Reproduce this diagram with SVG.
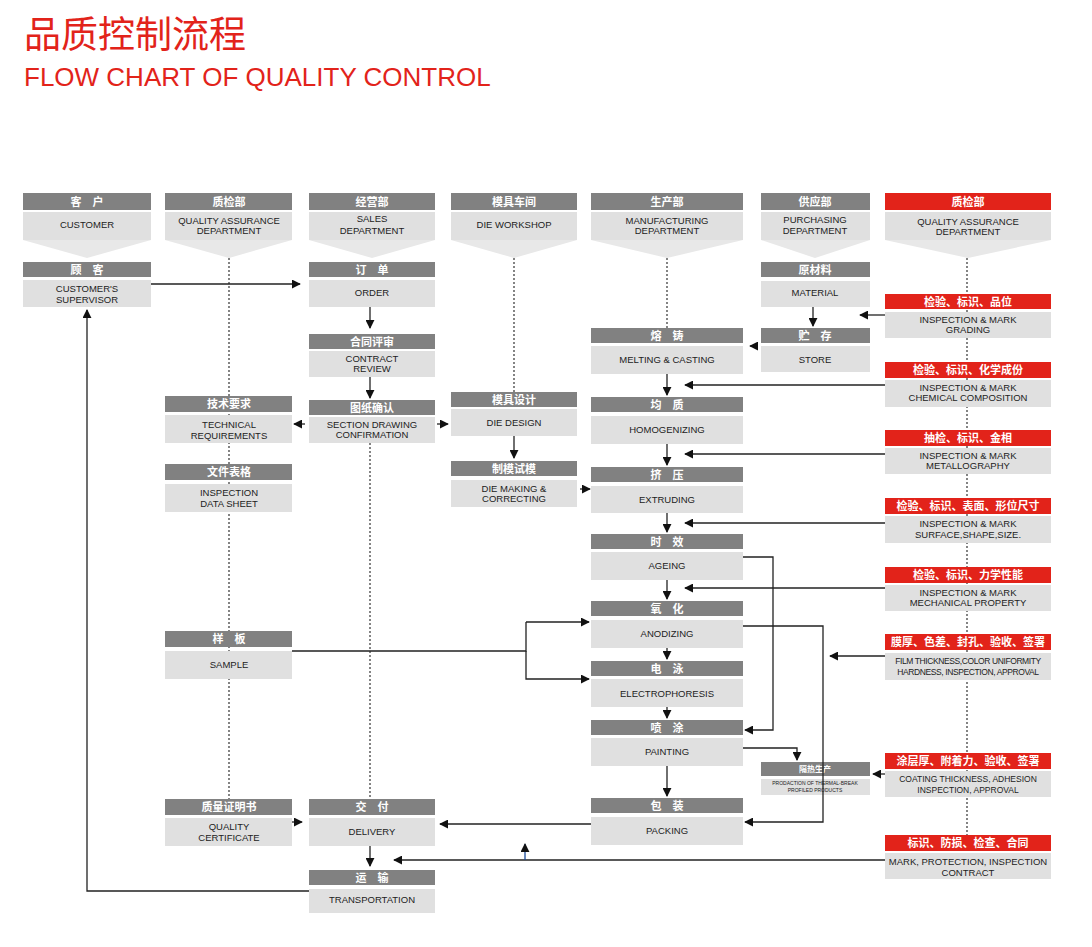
<svg xmlns="http://www.w3.org/2000/svg" width="1092" height="947" viewBox="0 0 1092 947">
<defs>
<style>
.h{fill:#818181}.r{fill:#e2231a}.b{fill:#e0e0e0}.t{fill:#e8e8e8}
.ht{fill:#fff;font-family:"Noto Sans CJK SC",sans-serif;font-size:11px;font-weight:bold;text-anchor:middle}
.bt{fill:#222;font-family:"Liberation Sans",Arial,sans-serif;font-size:9.5px;text-anchor:middle}
.ln{stroke:#222;stroke-width:1.3;fill:none}
.dt{stroke:#333;stroke-width:1.2;stroke-dasharray:2 2;fill:none}
</style>
<marker id="a" viewBox="0 0 10 10" refX="9" refY="5" markerWidth="9" markerHeight="9" markerUnits="userSpaceOnUse" orient="auto"><path d="M0,0L10,5L0,10z" fill="#111"/></marker>
</defs>
<rect width="1092" height="947" fill="#fff"/>
<text x="24" y="48" font-family="Noto Sans CJK SC,sans-serif" font-size="37" fill="#e2231a">品质控制流程</text>
<text x="24" y="86" font-family="Liberation Sans,Arial,sans-serif" font-size="26" fill="#e2231a">FLOW CHART OF QUALITY CONTROL</text>

<g id="dotted">
<path class="dt" d="M229 258V799M370 443V799M514 258V392M667 258V328M967 258V835"/>
</g>

<g id="lanes">
<g id="lane1"><rect class="h" x="23" y="193" width="128" height="17"/><text class="ht" x="87" y="206">客　户</text><rect class="b" x="23" y="212" width="128" height="28"/><text class="bt" x="87" y="228">CUSTOMER</text><polygon class="t" points="23,240 151,240 87,258"/></g>
<g id="lane2"><rect class="h" x="165" y="193" width="127" height="17"/><text class="ht" x="229" y="206">质检部</text><rect class="b" x="165" y="212" width="127" height="28"/><text class="bt" x="229" y="224">QUALITY ASSURANCE</text><text class="bt" x="229" y="234">DEPARTMENT</text><polygon class="t" points="165,240 292,240 229,258"/></g>
<g id="lane3"><rect class="h" x="309" y="193" width="126" height="17"/><text class="ht" x="372" y="206">经营部</text><rect class="b" x="309" y="212" width="126" height="28"/><text class="bt" x="372" y="222">SALES</text><text class="bt" x="372" y="234">DEPARTMENT</text><polygon class="t" points="309,240 435,240 372,258"/></g>
<g id="lane4"><rect class="h" x="451" y="193" width="126" height="17"/><text class="ht" x="514" y="206">模具车间</text><rect class="b" x="451" y="212" width="126" height="28"/><text class="bt" x="514" y="228">DIE  WORKSHOP</text><polygon class="t" points="451,240 577,240 514,258"/></g>
<g id="lane5"><rect class="h" x="591" y="193" width="152" height="17"/><text class="ht" x="667" y="206">生产部</text><rect class="b" x="591" y="212" width="152" height="28"/><text class="bt" x="667" y="224">MANUFACTURING</text><text class="bt" x="667" y="234">DEPARTMENT</text><polygon class="t" points="591,240 743,240 667,258"/></g>
<g id="lane6"><rect class="h" x="761" y="193" width="109" height="17"/><text class="ht" x="815" y="206">供应部</text><rect class="b" x="761" y="212" width="109" height="28"/><text class="bt" x="815" y="223">PURCHASING</text><text class="bt" x="815" y="234">DEPARTMENT</text><polygon class="t" points="761,240 870,240 815,258"/></g>
<g id="lane7"><rect class="r" x="885" y="193" width="166" height="17"/><text class="ht" x="968" y="206">质检部</text><rect class="b" x="885" y="212" width="166" height="28"/><text class="bt" x="968" y="225">QUALITY ASSURANCE</text><text class="bt" x="968" y="235">DEPARTMENT</text><polygon class="t" points="885,240 1051,240 968,258"/></g>
</g>

<g id="n-guke"><rect class="h" x="23" y="262" width="128" height="15"/><text class="ht" x="87" y="274">顾　客</text><rect class="b" x="23" y="280" width="128" height="27"/><text class="bt" x="87" y="292">CUSTOMER'S</text><text class="bt" x="87" y="303">SUPERVISOR</text></g>
<g id="n-order"><rect class="h" x="309" y="262" width="126" height="15"/><text class="ht" x="372" y="274">订　单</text><rect class="b" x="309" y="280" width="126" height="27"/><text class="bt" x="372" y="296">ORDER</text></g>
<g id="n-contract"><rect class="h" x="309" y="334" width="126" height="15"/><text class="ht" x="372" y="346">合同评审</text><rect class="b" x="309" y="351" width="126" height="26"/><text class="bt" x="372" y="362">CONTRACT</text><text class="bt" x="372" y="372">REVIEW</text></g>
<g id="n-drawing"><rect class="h" x="309" y="400" width="126" height="15"/><text class="ht" x="372" y="412">图纸确认</text><rect class="b" x="309" y="417" width="126" height="26"/><text class="bt" x="372" y="428">SECTION DRAWING</text><text class="bt" x="372" y="438">CONFIRMATION</text></g>
<g id="n-tech"><rect class="h" x="165" y="396" width="127" height="16"/><text class="ht" x="229" y="408">技术要求</text><rect class="b" x="165" y="415" width="127" height="28"/><text class="bt" x="229" y="428">TECHNICAL</text><text class="bt" x="229" y="439">REQUIREMENTS</text></g>
<g id="n-sheet"><rect class="h" x="165" y="464" width="127" height="16"/><text class="ht" x="229" y="476">文件表格</text><rect class="b" x="165" y="484" width="127" height="28"/><text class="bt" x="229" y="496">INSPECTION</text><text class="bt" x="229" y="507">DATA SHEET</text></g>
<g id="n-diedesign"><rect class="h" x="451" y="392" width="126" height="15"/><text class="ht" x="514" y="404">模具设计</text><rect class="b" x="451" y="409" width="126" height="27"/><text class="bt" x="514" y="426">DIE DESIGN</text></g>
<g id="n-diemaking"><rect class="h" x="451" y="461" width="126" height="15"/><text class="ht" x="514" y="473">制模试模</text><rect class="b" x="451" y="480" width="126" height="27"/><text class="bt" x="514" y="492">DIE MAKING &amp;</text><text class="bt" x="514" y="502">CORRECTING</text></g>
<g id="n-material"><rect class="h" x="761" y="262" width="109" height="15"/><text class="ht" x="815" y="274">原材料</text><rect class="b" x="761" y="281" width="109" height="26"/><text class="bt" x="815" y="296">MATERIAL</text></g>
<g id="n-store"><rect class="h" x="761" y="328" width="109" height="15"/><text class="ht" x="815" y="340">贮　存</text><rect class="b" x="761" y="346" width="109" height="26"/><text class="bt" x="815" y="363">STORE</text></g>
<g id="n-melt"><rect class="h" x="591" y="328" width="152" height="15"/><text class="ht" x="667" y="340">熔　铸</text><rect class="b" x="591" y="346" width="152" height="28"/><text class="bt" x="667" y="363">MELTING &amp; CASTING</text></g>
<g id="n-homo"><rect class="h" x="591" y="397" width="152" height="15"/><text class="ht" x="667" y="409">均　质</text><rect class="b" x="591" y="416" width="152" height="28"/><text class="bt" x="667" y="433">HOMOGENIZING</text></g>
<g id="n-extrude"><rect class="h" x="591" y="467" width="152" height="15"/><text class="ht" x="667" y="479">挤　压</text><rect class="b" x="591" y="486" width="152" height="27"/><text class="bt" x="667" y="503">EXTRUDING</text></g>
<g id="n-age"><rect class="h" x="591" y="534" width="152" height="15"/><text class="ht" x="667" y="546">时　效</text><rect class="b" x="591" y="552" width="152" height="28"/><text class="bt" x="667" y="569">AGEING</text></g>
<g id="n-anod"><rect class="h" x="591" y="601" width="152" height="15"/><text class="ht" x="667" y="613">氧　化</text><rect class="b" x="591" y="620" width="152" height="28"/><text class="bt" x="667" y="637">ANODIZING</text></g>
<g id="n-electro"><rect class="h" x="591" y="661" width="152" height="15"/><text class="ht" x="667" y="673">电　泳</text><rect class="b" x="591" y="679" width="152" height="28"/><text class="bt" x="667" y="697">ELECTROPHORESIS</text></g>
<g id="n-paint"><rect class="h" x="591" y="720" width="152" height="15"/><text class="ht" x="667" y="732">喷　涂</text><rect class="b" x="591" y="738" width="152" height="28"/><text class="bt" x="667" y="755">PAINTING</text></g>
<g id="n-pack"><rect class="h" x="591" y="798" width="152" height="15"/><text class="ht" x="667" y="810">包　装</text><rect class="b" x="591" y="817" width="152" height="28"/><text class="bt" x="667" y="834">PACKING</text></g>
<g id="n-thermal"><rect class="h" x="761" y="762" width="109" height="14"/><text class="ht" x="815" y="772" style="font-size:8px">隔热生产</text><rect class="b" x="761" y="779" width="109" height="16"/><text class="bt" x="815" y="785" style="font-size:5px">PRODACTION OF THERMAL-BREAK</text><text class="bt" x="815" y="792" style="font-size:5px">PROFILED PRODUCTS</text></g>
<g id="n-sample"><rect class="h" x="165" y="631" width="127" height="16"/><text class="ht" x="229" y="643">样　板</text><rect class="b" x="165" y="651" width="127" height="28"/><text class="bt" x="229" y="668">SAMPLE</text></g>
<g id="n-cert"><rect class="h" x="165" y="799" width="127" height="16"/><text class="ht" x="229" y="811">质量证明书</text><rect class="b" x="165" y="818" width="127" height="28"/><text class="bt" x="229" y="830">QUALITY</text><text class="bt" x="229" y="841">CERTIFICATE</text></g>
<g id="n-delivery"><rect class="h" x="309" y="799" width="126" height="16"/><text class="ht" x="372" y="811">交　付</text><rect class="b" x="309" y="818" width="126" height="28"/><text class="bt" x="372" y="835">DELIVERY</text></g>
<g id="n-transport"><rect class="h" x="309" y="870" width="126" height="15"/><text class="ht" x="372" y="882">运　输</text><rect class="b" x="309" y="889" width="126" height="24"/><text class="bt" x="372" y="903">TRANSPORTATION</text></g>

<g id="q1"><rect class="r" x="885" y="294" width="166" height="15"/><text class="ht" x="968" y="306">检验、标识、品位</text><rect class="b" x="885" y="312" width="166" height="26"/><text class="bt" x="968" y="323">INSPECTION &amp; MARK</text><text class="bt" x="968" y="333">GRADING</text></g>
<g id="q2"><rect class="r" x="885" y="362" width="166" height="16"/><text class="ht" x="968" y="374">检验、标识、化学成份</text><rect class="b" x="885" y="380" width="166" height="27"/><text class="bt" x="968" y="391">INSPECTION &amp; MARK</text><text class="bt" x="968" y="401">CHEMICAL COMPOSITION</text></g>
<g id="q3"><rect class="r" x="885" y="430" width="166" height="16"/><text class="ht" x="968" y="442">抽检、标识、金相</text><rect class="b" x="885" y="448" width="166" height="26"/><text class="bt" x="968" y="459">INSPECTION &amp; MARK</text><text class="bt" x="968" y="469">METALLOGRAPHY</text></g>
<g id="q4"><rect class="r" x="885" y="498" width="166" height="16"/><text class="ht" x="968" y="510">检验、标识、表面、形位尺寸</text><rect class="b" x="885" y="516" width="166" height="27"/><text class="bt" x="968" y="527">INSPECTION &amp; MARK</text><text class="bt" x="968" y="538">SURFACE,SHAPE,SIZE.</text></g>
<g id="q5"><rect class="r" x="885" y="567" width="166" height="16"/><text class="ht" x="968" y="579">检验、标识、力学性能</text><rect class="b" x="885" y="585" width="166" height="26"/><text class="bt" x="968" y="596">INSPECTION &amp; MARK</text><text class="bt" x="968" y="606">MECHANICAL PROPERTY</text></g>
<g id="q6"><rect class="r" x="885" y="634" width="166" height="16"/><text class="ht" x="968" y="646">膜厚、色差、封孔、验收、签署</text><rect class="b" x="885" y="653" width="166" height="27"/><text class="bt" x="968" y="664" style="font-size:8.5px;letter-spacing:-0.4px">FILM THICKNESS,COLOR UNIFORMITY</text><text class="bt" x="968" y="675" style="font-size:8.5px;letter-spacing:-0.4px">HARDNESS, INSPECTION, APPROVAL</text></g>
<g id="q7"><rect class="r" x="885" y="753" width="166" height="16"/><text class="ht" x="968" y="765">涂层厚、附着力、验收、签署</text><rect class="b" x="885" y="771" width="166" height="26"/><text class="bt" x="968" y="782" style="font-size:8.5px">COATING THICKNESS, ADHESION</text><text class="bt" x="968" y="793" style="font-size:8.5px">INSPECTION, APPROVAL</text></g>
<g id="q8"><rect class="r" x="885" y="835" width="166" height="16"/><text class="ht" x="968" y="847">标识、防损、检查、合同</text><rect class="b" x="885" y="853" width="166" height="26"/><text class="bt" x="968" y="865">MARK, PROTECTION, INSPECTION</text><text class="bt" x="968" y="876">CONTRACT</text></g>

<g id="connectors">
<path class="ln" marker-end="url(#a)" d="M151 284H300"/>
<path class="ln" marker-end="url(#a)" d="M370 307V328"/>
<path class="ln" marker-end="url(#a)" d="M370 377V398"/>
<path class="ln" marker-end="url(#a)" d="M305 424H294"/>
<path class="ln" marker-end="url(#a)" d="M437 424H448"/>
<path class="ln" marker-end="url(#a)" d="M514 436V458"/>
<path class="ln" marker-end="url(#a)" d="M580 489H590"/>
<path class="ln" marker-end="url(#a)" d="M813 307V326"/>
<path class="ln" marker-end="url(#a)" d="M885 315H860"/>
<path class="ln" marker-end="url(#a)" d="M758 346H750"/>
<path class="ln" marker-end="url(#a)" d="M667 374V395"/>
<path class="ln" marker-end="url(#a)" d="M885 385H685"/>
<path class="ln" marker-end="url(#a)" d="M667 444V465"/>
<path class="ln" marker-end="url(#a)" d="M885 454H685"/>
<path class="ln" marker-end="url(#a)" d="M667 513V532"/>
<path class="ln" marker-end="url(#a)" d="M885 523H685"/>
<path class="ln" marker-end="url(#a)" d="M667 580V599"/>
<path class="ln" marker-end="url(#a)" d="M885 588H685"/>
<path class="ln" marker-end="url(#a)" d="M667 648V659"/>
<path class="ln" marker-end="url(#a)" d="M667 707V718"/>
<path class="ln" marker-end="url(#a)" d="M667 766V796"/>
<path class="ln" marker-end="url(#a)" d="M743 557H773V730H745"/>
<path class="ln" marker-end="url(#a)" d="M743 626H823V822H745"/>
<path class="ln" marker-end="url(#a)" d="M885 656H830"/>
<path class="ln" marker-end="url(#a)" d="M743 748H797V760"/>
<path class="ln" marker-end="url(#a)" d="M885 774H873"/>
<path class="ln" d="M292 651H526V622"/>
<path class="ln" marker-end="url(#a)" d="M526 622H589"/>
<path class="ln" marker-end="url(#a)" d="M526 651V679H589"/>
<path class="ln" marker-end="url(#a)" d="M591 824H440"/>
<path class="ln" marker-end="url(#a)" d="M292 822H302"/>
<path class="ln" marker-end="url(#a)" d="M370 846V866"/>
<path class="ln" marker-end="url(#a)" d="M885 860H394"/>
<path d="M525 860V844" stroke="#1a4a9a" stroke-width="1.3" marker-end="url(#a)"/>
<path class="ln" marker-end="url(#a)" d="M309 891H87V310"/>
</g>
</svg>
